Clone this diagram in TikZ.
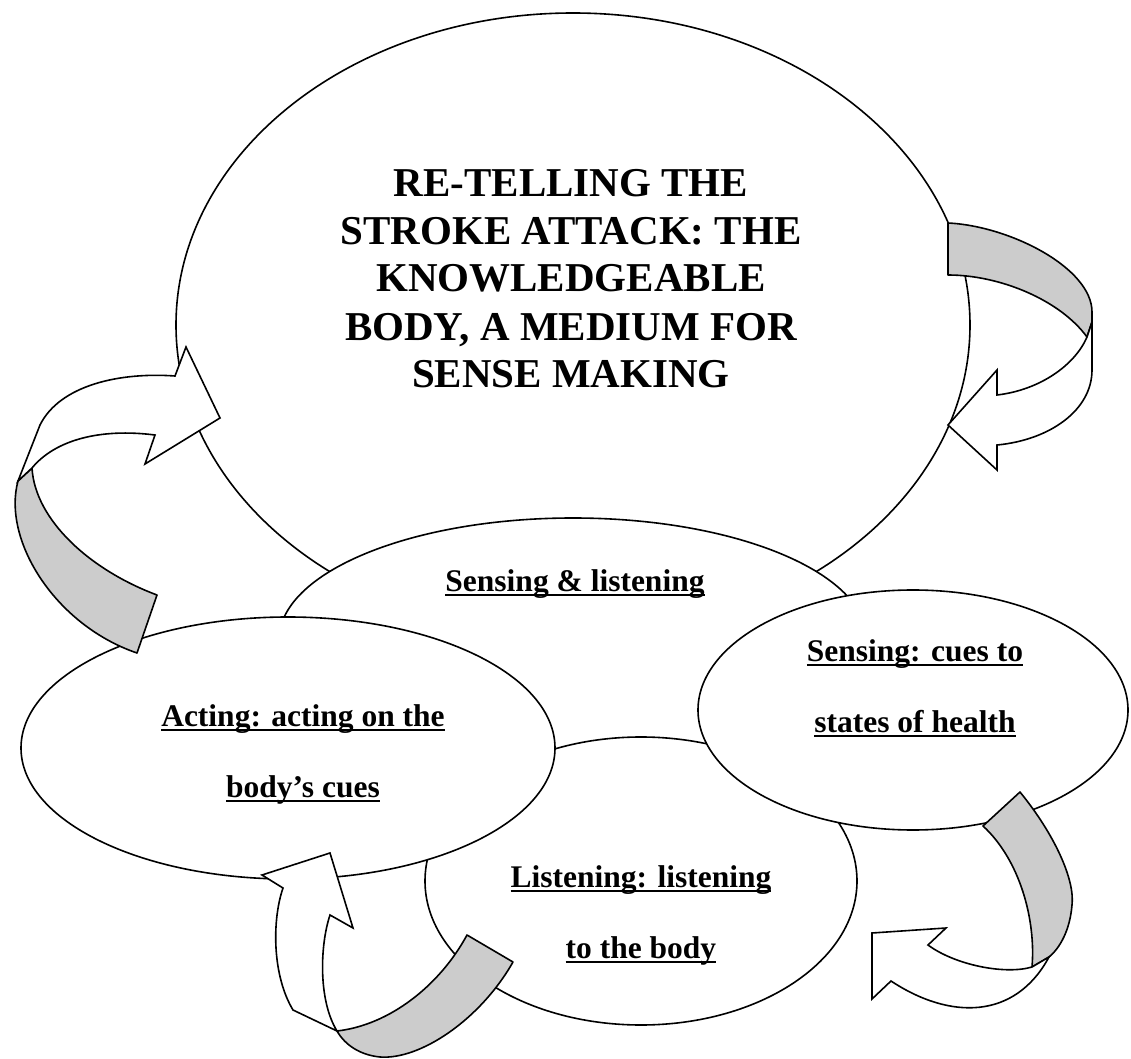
\documentclass[tikz,border=0pt]{standalone}
\usepackage{fontspec}
\setmainfont{Liberation Serif}
\usetikzlibrary{shapes.geometric}
\definecolor{ribbon}{HTML}{CCCCCC}
% word underline at a fixed depth, crossing the descenders
\newcommand\ulbox[1]{\setbox0\hbox{#1}\rlap{\rule[-2.4pt]{\wd0}{0.9pt}}\box0}
\begin{document}
\begin{tikzpicture}[x=0.5pt, y=-0.5pt, line width=0.8pt,
  bubble/.style={draw, ellipse, fill=white, inner sep=0pt, outer sep=0pt},
  titletext/.style={anchor=base, align=center, inner sep=0pt,
    font=\fontsize{20.5}{24}\selectfont\bfseries},
  labeltext/.style={anchor=base, align=center, inner sep=0pt,
    font=\fontsize{15.75}{35.5}\selectfont\bfseries},
  ribbonback/.style={draw, fill=ribbon, line join=round},
  ribbonfront/.style={draw, fill=white, line join=miter}]
\useasboundingbox (0,0) rectangle (1131,1059);

% ellipses, back to front
\node[bubble, minimum width=397pt, minimum height=312pt] (big) at (573,325) {};
\node[bubble, minimum width=294pt, minimum height=122pt] (senslist) at (573,640) {};
\node[bubble, minimum width=216pt, minimum height=144pt] (listen) at (641,881) {};
\node[bubble, minimum width=267pt, minimum height=131pt] (acting) at (288,748) {};
\node[bubble, minimum width=215pt, minimum height=120pt] (cues) at (913,710) {};

% texts (anchored at the baseline of their last line)
\node[titletext] (title) at (571,388)
  {RE-TELLING THE\\STROKE ATTACK: THE\\KNOWLEDGEABLE\\BODY, A MEDIUM FOR\\SENSE MAKING};
\node[labeltext] (senslisttext) at (575,591) {\ulbox{Sensing \& listening}};
\node[labeltext] (cuestext) at (915,732) {\ulbox{Sensing: cues to}\\\ulbox{states of health}};
\node[labeltext] (listentext) at (641,958) {\ulbox{Listening: listening}\\\ulbox{to the body}};
\node[labeltext] (actingtext) at (303,797) {\ulbox{Acting: acting on the}\\\ulbox{body’s cues}};

% curved arrow, top right
\path[ribbonback] (948,223) .. controls (1010,226) and (1092,268) .. (1092,312)
  -- (1092,322) -- (1087,337) .. controls (1060,300) and (1000,275) .. (948,275) -- cycle;
\path[ribbonfront] (1092,322) -- (1092,370) .. controls (1092,410) and (1050,440) .. (997,445)
  -- (997,470) -- (948,425) -- (997,370) -- (997,395)
  .. controls (1040,390) and (1075,365) .. (1087,337) -- cycle;

% curved arrow, left
\path[ribbonback] (18,481) .. controls (2,540) and (55,625) .. (137,653)
  -- (157,595) .. controls (90,570) and (35,520) .. (32,468) -- cycle;
\path[ribbonfront] (18,481) -- (40,425) .. controls (60,385) and (120,372) .. (175,376)
  -- (186,347) -- (220,418) -- (145,464) -- (155,435)
  .. controls (100,428) and (55,440) .. (32,468) -- cycle;

% curved arrow, bottom left
\path[ribbonback] (337,1031) .. controls (390,1025) and (440,985) .. (467,935)
  -- (513,962) .. controls (480,1020) and (420,1060) .. (380,1057)
  .. controls (360,1055) and (345,1045) .. (337,1031) -- cycle;
\path[ribbonfront] (337,1031) -- (293,1010) .. controls (272,975) and (272,920) .. (283,888)
  -- (262,875) -- (330,853) -- (353,928) -- (330,915)
  .. controls (320,945) and (318,1000) .. (337,1031) -- cycle;

% curved arrow, bottom right
\path[ribbonback] (983,826) -- (1020,792) .. controls (1055,835) and (1075,880) .. (1072,905)
  .. controls (1070,930) and (1060,948) .. (1049,957) -- (1032,967)
  .. controls (1036,920) and (1020,860) .. (983,826) -- cycle;
\path[ribbonfront] (1049,957) .. controls (1015,1020) and (950,1020) .. (891,981)
  -- (872,999) -- (872,933) -- (946,928) -- (928,945)
  .. controls (955,965) and (1005,975) .. (1032,967) -- cycle;
\end{tikzpicture}
\end{document}
